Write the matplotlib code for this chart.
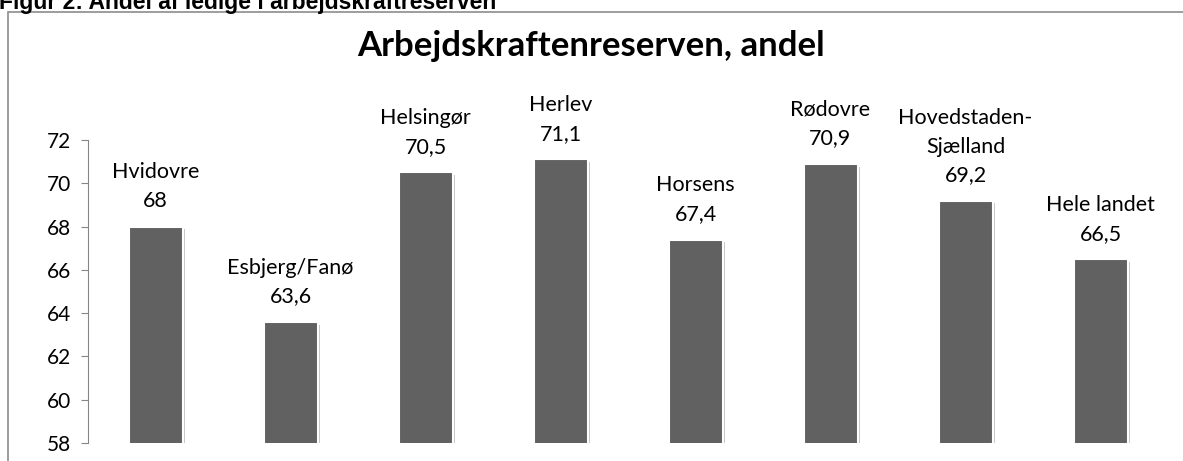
import matplotlib.pyplot as plt
import matplotlib.patheffects as pe
from matplotlib.patches import Rectangle

# Data
kommuner = ["Hvidovre", "Esbjerg/Fanø", "Helsingør", "Herlev", "Horsens",
            "Rødovre", "Hovedstaden-\nSjælland", "Hele landet"]
andel = [68, 63.6, 70.5, 71.1, 67.4, 70.9, 69.2, 66.5]
yticks = [58, 60, 62, 64, 66, 68, 70, 72]

W, H = 1183, 461
fig = plt.figure(figsize=(W / 100, H / 100), dpi=100)
plt.rcParams["font.family"] = ["Lato", "DejaVu Sans"]

# outer chart frame
fig.add_artist(Rectangle((8 / W, -0.05), 1.1, 1 - 12 / H + 0.05,
                         transform=fig.transFigure, fill=False,
                         edgecolor="#8c8c8c", lw=1.2))

# caption at the top (cut off in the original)
fig.text(-0.001, 1 - 9 / H, "Figur 2: Andel af ledige i arbejdskraftreserven",
         family="Liberation Sans", fontweight="bold", fontsize=16.5,
         ha="left", va="baseline")

ax = fig.add_axes([88 / W, 1 - 443 / H, (1168 - 88) / W, (443 - 140) / H])

x = range(len(kommuner))
bars = ax.bar(x, andel, bottom=0, width=0.4, color="#616161",
              edgecolor="white", linewidth=1.5, zorder=3)
for b in bars:
    b.set_path_effects([pe.SimplePatchShadow(offset=(1.5, -2), shadow_rgbFace="#a0a0a0", alpha=0.6),
                        pe.Normal()])

for i, (navn, v) in enumerate(zip(kommuner, andel)):
    ax.annotate(f"{navn}\n{v:g}".replace(".", ","), (i, v), xytext=(0, 11),
                textcoords="offset points", ha="center", va="bottom",
                fontsize=15.5, linespacing=1.55, annotation_clip=False)

ax.set_ylim(58, 72)
ax.set_xlim(-0.5, len(kommuner) - 0.5)
ax.set_yticks(yticks)
ax.tick_params(axis="y", length=5, color="#868686", labelsize=15, pad=7)
ax.set_xticks([])
for s in ["top", "right", "bottom"]:
    ax.spines[s].set_visible(False)
ax.spines["left"].set_color("#868686")

fig.text(591 / W, 1 - 46 / H, "Arbejdskraftenreserven, andel",
         fontsize=25, fontweight="bold", ha="center", va="center")

fig.savefig("out.png", dpi=100)
